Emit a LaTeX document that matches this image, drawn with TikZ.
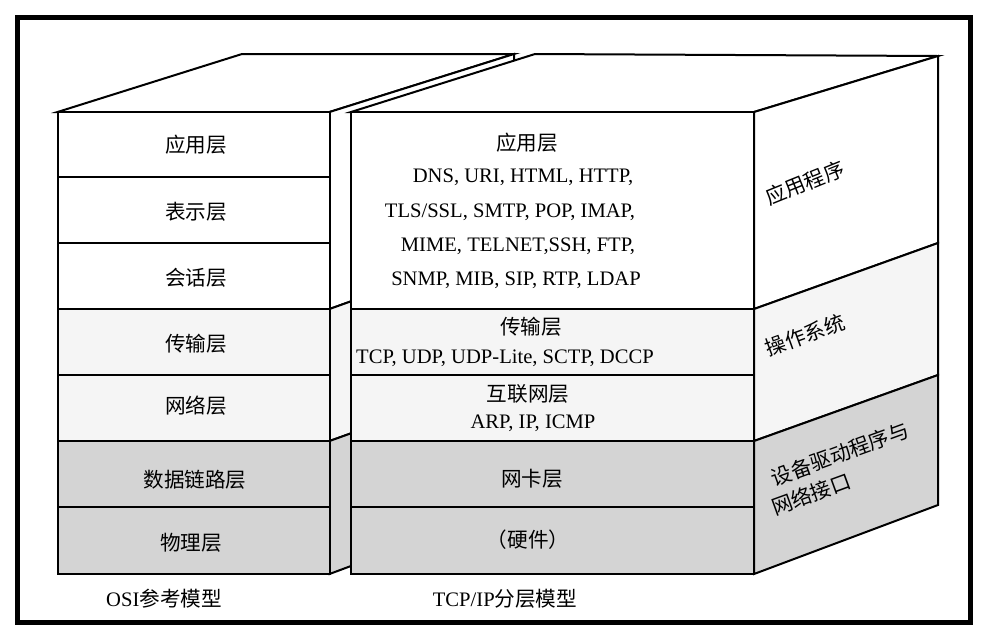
\documentclass[tikz,border=0pt]{standalone}
\usepackage{fontspec}
\setmainfont{Liberation Serif}
\newfontfamily\cjk{Noto Sans CJK SC}
\begin{document}
\begin{tikzpicture}[x=.5pt,y=-.5pt,line width=1pt,font=\fontsize{10.3pt}{12pt}\selectfont,
  lite/.style={fill=black!4},
  dark/.style={fill=black!17},
  blank/.style={fill=white},
  lbl/.style={inner sep=0pt},
  sidelbl/.style={lbl,rotate=20}]
\useasboundingbox (0,0) rectangle (988,638);
\draw[line width=2.5pt] (17.5,17) rectangle (970.5,622.5);
% OSI model block
\draw[blank] (57.5,112)--(242,54)--(514,54)--(329.5,112)--cycle;
\draw[blank] (329.5,112)--(514,54)--(514,243)--(329.5,309)--cycle;
\draw[lite] (329.5,309)--(514,243)--(514,375)--(329.5,441)--cycle;
\draw[dark] (329.5,441)--(514,375)--(514,505)--(329.5,574)--cycle;
\draw[blank] (57.5,112) rectangle (329.5,309);
\draw[lite] (57.5,309) rectangle (329.5,441);
\draw[dark] (57.5,441) rectangle (329.5,574);
\foreach \y in {177,243,375,507} \draw (57.5,\y)--(329.5,\y);
% TCP/IP model block
\draw[blank] (351,112)--(535,54)--(938,56)--(754,112)--cycle;
\draw[blank] (754,112)--(938,56)--(938,243)--(754,309)--cycle;
\draw[lite] (754,309)--(938,243)--(938,375)--(754,441)--cycle;
\draw[dark] (754,441)--(938,375)--(938,505)--(754,574)--cycle;
\draw[blank] (351,112) rectangle (754,309);
\draw[lite] (351,309) rectangle (754,441);
\draw[dark] (351,441) rectangle (754,574);
\foreach \y in {375,507} \draw (351,\y)--(754,\y);
% OSI labels
\node[lbl] (osiapp) at (196,145) {\cjk 应用层};
\node[lbl] (osipres) at (196,212) {\cjk 表示层};
\node[lbl] (osisess) at (196,278) {\cjk 会话层};
\node[lbl] (ositrans) at (196,344) {\cjk 传输层};
\node[lbl] (osinet) at (196,406) {\cjk 网络层};
\node[lbl] (osilink) at (195,480) {\cjk 数据链路层};
\node[lbl] (osiphys) at (191,543) {\cjk 物理层};
% TCP/IP labels
\node[lbl] (tcpapp) at (527,143) {\cjk 应用层};
\node[lbl] (tcpappa) at (523,177) {DNS, URI, HTML, HTTP,};
\node[lbl] (tcpappb) at (510,212) {TLS/SSL, SMTP, POP, IMAP,};
\node[lbl] (tcpappc) at (518,246) {MIME, TELNET,SSH, FTP,};
\node[lbl] (tcpappd) at (516,280) {SNMP, MIB, SIP, RTP, LDAP};
\node[lbl] (tcptrans) at (531,327) {\cjk 传输层};
\node[lbl] (tcptransp) at (505,358) {TCP, UDP, UDP-Lite, SCTP, DCCP};
\node[lbl] (tcpnet) at (528,394) {\cjk 互联网层};
\node[lbl] (tcpnetp) at (533,423) {ARP, IP, ICMP};
\node[lbl] (tcplink) at (532,479) {\cjk 网卡层};
\node[lbl] (tcphw) at (528,540) {\cjk （硬件）};
% side face labels
\node[sidelbl,rotate=2] (sideapp) at (805,183) {\cjk 应用程序};
\node[sidelbl] (sideos) at (805,335) {\cjk 操作系统};
\node[sidelbl] (sidedrv) at (840,454) {\cjk 设备驱动程序与};
\node[sidelbl] (sidenic) at (811,494) {\cjk 网络接口};
% captions
\node[lbl] (osicap) at (164,599) {OSI\cjk 参考模型};
\node[lbl] (tcpcap) at (505,599) {TCP/IP\cjk 分层模型};
\end{tikzpicture}
\end{document}
